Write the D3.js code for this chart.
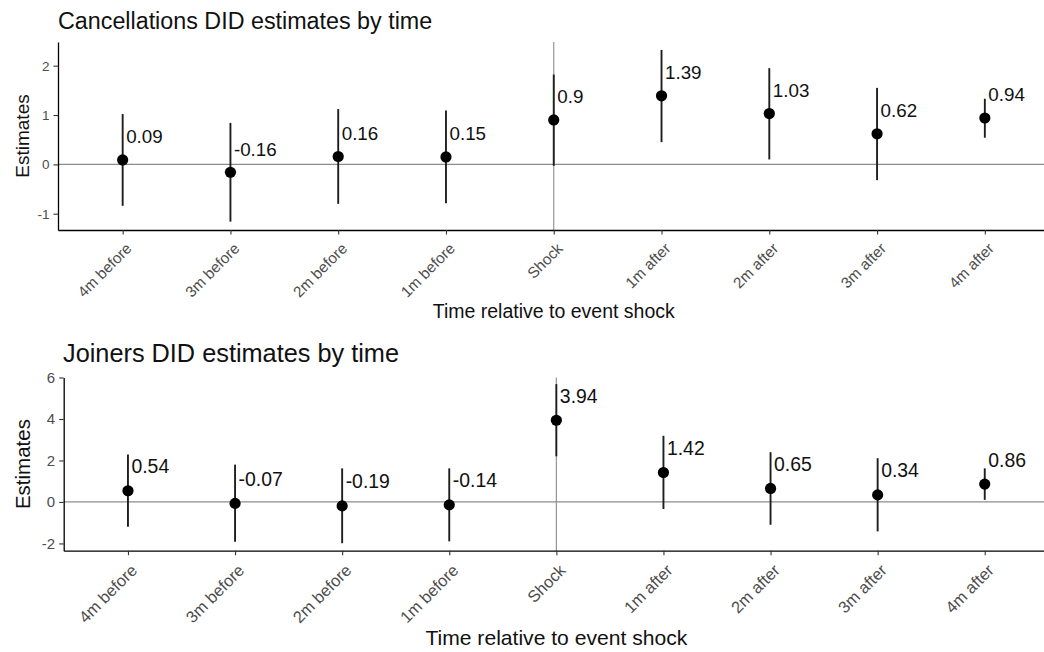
<!DOCTYPE html>
<html>
<head>
<meta charset="utf-8">
<title>DID estimates by time</title>
<script src="https://d3js.org/d3.v7.min.js"></script>
<style>
  body { margin: 0; background: #fff; }
  svg { display: block; font-family: "Liberation Sans", Arial, Helvetica, sans-serif; }
  .axis .domain { stroke: #000; stroke-width: 1.3px; }
  .axis .tick line { stroke: #333; stroke-width: 1.1px; }
  .axis .tick text { fill: #4d4d4d; }
</style>
</head>
<body>
<svg id="chart" width="1044" height="652"></svg>
<script>
// time periods relative to the shock
const periods = ["4m before", "3m before", "2m before", "1m before", "Shock",
                 "1m after", "2m after", "3m after", "4m after"];

// Cancellations: point estimates and CI bounds
const cancEst  = [0.09, -0.16, 0.16, 0.15, 0.9, 1.39, 1.03, 0.62, 0.94];
const cancLow  = [-0.84, -1.16, -0.80, -0.79, -0.03, 0.45, 0.10, -0.32, 0.54];
const cancHigh = [1.02, 0.84, 1.12, 1.09, 1.82, 2.32, 1.95, 1.55, 1.33];

// Joiners: point estimates and CI bounds
const joinEst  = [0.54, -0.07, -0.19, -0.14, 3.94, 1.42, 0.65, 0.34, 0.86];
const joinLow  = [-1.20, -1.92, -1.99, -1.90, 2.20, -0.34, -1.10, -1.42, 0.10];
const joinHigh = [2.29, 1.80, 1.62, 1.62, 5.68, 3.19, 2.40, 2.11, 1.62];

const cancTicks = [-1, 0, 1, 2];
const joinTicks = [-2, 0, 2, 4, 6];

const svg = d3.select('#chart');

function drawPanel(cfg) {
    const data = periods.map((p, i) => ({
        period: p, est: cfg.est[i], lo: cfg.low[i], hi: cfg.high[i]
    }));

    const x = d3.scalePoint()
        .domain(periods)
        .range([cfg.left, cfg.right])
        .padding(0.6);
    const y = d3.scaleLinear()
        .domain(cfg.yDomain)
        .range([cfg.bottom, cfg.top]);

    const g = svg.append('g');

    // zero line and shock line
    g.append('line')
        .attr('x1', cfg.left).attr('x2', cfg.right)
        .attr('y1', y(0)).attr('y2', y(0))
        .attr('stroke', '#8c8c8c').attr('stroke-width', 1.3);
    g.append('line')
        .attr('x1', x('Shock')).attr('x2', x('Shock'))
        .attr('y1', cfg.top).attr('y2', cfg.bottom)
        .attr('stroke', '#8c8c8c').attr('stroke-width', 1.1);

    // error bars
    g.selectAll('.ci').data(data).enter().append('line')
        .attr('class', 'ci')
        .attr('x1', d => x(d.period)).attr('x2', d => x(d.period))
        .attr('y1', d => y(d.lo)).attr('y2', d => y(d.hi))
        .attr('stroke', '#1e1e1e').attr('stroke-width', 1.9);

    // points
    g.selectAll('.pt').data(data).enter().append('circle')
        .attr('class', 'pt')
        .attr('cx', d => x(d.period)).attr('cy', d => y(d.est))
        .attr('r', 5.6).attr('fill', '#000');

    // value labels
    g.selectAll('.lbl').data(data).enter().append('text')
        .attr('class', 'lbl')
        .attr('x', d => x(d.period) + 3.5)
        .attr('y', d => y(d.est) - cfg.labelOffset)
        .style('font-size', cfg.labelFont + 'px')
        .attr('fill', '#111')
        .text(d => String(d.est));

    // axes
    const yAxis = d3.axisLeft(y).tickValues(cfg.yTicks)
        .tickFormat(d => String(d)).tickSize(4.5).tickSizeOuter(0).tickPadding(4);
    g.append('g').attr('class', 'axis')
        .attr('transform', `translate(${cfg.left},0)`)
        .call(yAxis)
        .selectAll('text').style('font-size', cfg.tickFont + 'px');

    const xAxis = d3.axisBottom(x).tickSize(4.5).tickSizeOuter(0);
    g.append('g').attr('class', 'axis')
        .attr('transform', `translate(0,${cfg.bottom})`)
        .call(xAxis)
        .selectAll('text')
            .style('font-size', cfg.xTickFont + 'px')
            .attr('text-anchor', 'end')
            .attr('x', 0).attr('y', 0).attr('dy', '0.32em')
            .attr('transform', `translate(6,${cfg.xTickDrop}) rotate(-45)`);
    g.selectAll('.axis').attr('font-family', null);

    // titles
    g.append('text')
        .attr('x', cfg.titleX).attr('y', cfg.titleY)
        .style('font-size', cfg.titleFont + 'px').attr('fill', '#111')
        .text(cfg.title);
    g.append('text')
        .attr('x', (cfg.left + cfg.right) / 2).attr('y', cfg.xTitleY)
        .attr('text-anchor', 'middle')
        .style('font-size', cfg.axisTitleFont + 'px').attr('fill', '#111')
        .text('Time relative to event shock');
    g.append('text')
        .attr('transform', `translate(${cfg.yTitleX},${(cfg.top + cfg.bottom) / 2}) rotate(-90)`)
        .attr('text-anchor', 'middle')
        .style('font-size', cfg.yTitleFont + 'px').attr('fill', '#111')
        .text('Estimates');
}

drawPanel({
    est: cancEst, low: cancLow, high: cancHigh, yTicks: cancTicks,
    title: 'Cancellations DID estimates by time',
    left: 58, right: 1049.5, top: 42, bottom: 230, yDomain: [-1.33, 2.48],
    titleX: 58, titleY: 28.5, titleFont: 23.3,
    xTitleY: 318, axisTitleFont: 19.5, yTitleX: 29, yTitleFont: 19,
    tickFont: 13.5, xTickFont: 15.3, xTickDrop: 16,
    labelFont: 18.8, labelOffset: 16.5
});

drawPanel({
    est: joinEst, low: joinLow, high: joinHigh, yTicks: joinTicks,
    title: 'Joiners DID estimates by time',
    left: 63.7, right: 1049, top: 377.5, bottom: 550.7, yDomain: [-2.35, 6.0],
    titleX: 63, titleY: 362, titleFont: 25.3,
    xTitleY: 645, axisTitleFont: 21.1, yTitleX: 30, yTitleFont: 20.5,
    tickFont: 15, xTickFont: 16.5, xTickDrop: 17,
    labelFont: 19.4, labelOffset: 17.5
});
</script>
</body>
</html>
